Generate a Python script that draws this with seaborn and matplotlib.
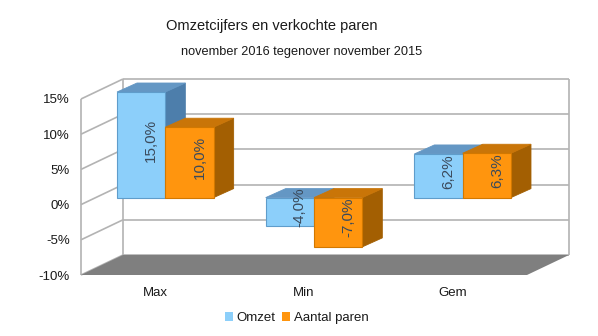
import numpy as np
import pandas as pd
import matplotlib
matplotlib.use("Agg")
import matplotlib.pyplot as plt
from matplotlib.patches import Polygon, Patch
from matplotlib.lines import Line2D
import seaborn as sns

# ---- data -------------------------------------------------------------
categories = ["Max", "Min", "Gem"]
series = ["Omzet", "Aantal paren"]
omzet = [15.0, -4.0, 6.2]
aantal_paren = [10.0, -7.0, 6.3]
yticks = [-10, -5, 0, 5, 10, 15]
ytick_labels = [f"{t}%" for t in yticks]

title = "Omzetcijfers en verkochte paren"
subtitle = "november 2016 tegenover november 2015"

# ---- style ------------------------------------------------------------
sns.set_theme(style="white")
plt.rcParams["font.family"] = ["Liberation Sans", "DejaVu Sans"]

BLUE = "#8ccffa"
BLUE_EDGE = "#5f9dcb"
BLUE_TOP = "#6497c4"
BLUE_SIDE = "#4d7eab"
ORANGE = "#ff950e"
ORANGE_EDGE = "#d27800"
ORANGE_TOP = "#c97508"
ORANGE_SIDE = "#a35f02"
GRID = "#b3b3b3"
FLOOR = "#7f7f7f"
LABEL = "#3b4a5b"

W, H = 598, 336
fig = plt.figure(figsize=(W / 100, H / 100), dpi=100)
fig.patch.set_facecolor("white")


def px_rect(left, top, right, bottom):
    return [left / W, 1 - bottom / H, (right - left) / W, (bottom - top) / H]


# perspective offsets (pixels, y up)
WALL = (42, 20)        # depth of the chart box
BAR_SHIFT = (10, 7)    # where the bar fronts sit inside the box
BAR_DEPTH = (20, 9)    # depth of each bar


def shift(axes, pts, d):
    pts = np.atleast_2d(np.asarray(pts, dtype=float))
    disp = axes.transData.transform(pts) + np.asarray(d, dtype=float)
    return axes.transData.inverted().transform(disp)


# ---- box: floor, walls, grid -----------------------------------------
ax = fig.add_axes(px_rect(81, 99, 527, 275))
ax.set_xlim(-0.5, 2.5)
ax.set_ylim(yticks[0], yticks[-1])
ax.set_facecolor("none")
for s in ax.spines.values():
    s.set_visible(False)

x_lo, x_hi = -0.5, 2.5
y_lo, y_hi = yticks[0], yticks[-1]

floor_front = np.array([[x_lo, y_lo], [x_hi, y_lo]])
floor_back = shift(ax, floor_front, WALL)
ax.add_patch(Polygon(np.vstack([floor_front, floor_back[::-1]]),
                     closed=True, facecolor=FLOOR, edgecolor="none",
                     zorder=1, clip_on=False))

line_kw = dict(color=GRID, lw=1.2, zorder=0.5, clip_on=False,
               solid_capstyle="butt")
for t in yticks:
    a = shift(ax, [[x_lo, t], [x_hi, t]], WALL)
    ax.add_line(Line2D(a[:, 0], a[:, 1], **line_kw))
    b = np.vstack([[x_lo, t], shift(ax, [x_lo, t], WALL)])
    ax.add_line(Line2D(b[:, 0], b[:, 1], **line_kw))
for pts in ([[x_lo, y_lo], [x_lo, y_hi]],):
    p = np.asarray(pts)
    ax.add_line(Line2D(p[:, 0], p[:, 1], **line_kw))
for xv in (x_lo, x_hi):
    p = shift(ax, [[xv, y_lo], [xv, y_hi]], WALL)
    ax.add_line(Line2D(p[:, 0], p[:, 1], **line_kw))

ax.set_yticks(yticks)
ax.set_yticklabels(ytick_labels)
ax.set_xticks(range(len(categories)))
ax.set_xticklabels(categories)
ax.tick_params(axis="y", length=0, pad=8, labelsize=9.5, labelcolor="#1a1a1a")
ax.tick_params(axis="x", length=0, pad=9, labelsize=9.5, labelcolor="#1a1a1a")
ax.grid(False)

# ---- bars ----------------------------------------------------------------
bar_ax = fig.add_axes(px_rect(81 + BAR_SHIFT[0], 99 - BAR_SHIFT[1],
                              527 + BAR_SHIFT[0], 275 - BAR_SHIFT[1]))
bar_ax.set_zorder(ax.get_zorder() + 1)
bar_ax.patch.set_visible(False)

df = pd.DataFrame({
    "categorie": categories * 2,
    "reeks": [series[0]] * len(categories) + [series[1]] * len(categories),
    "waarde": omzet + aantal_paren,
})
sns.barplot(data=df, x="categorie", y="waarde", hue="reeks",
            order=categories, hue_order=series, palette=[BLUE, ORANGE],
            width=0.65, saturation=1, legend=False, ax=bar_ax,
            linewidth=0.8)
bar_ax.set_xlim(x_lo, x_hi)
bar_ax.set_ylim(y_lo, y_hi)
bar_ax.axis("off")

shades = [(BLUE_EDGE, BLUE_TOP, BLUE_SIDE), (ORANGE_EDGE, ORANGE_TOP, ORANGE_SIDE)]
bars = []
for si, cont in enumerate(bar_ax.containers[:2]):
    for bar in cont:
        bars.append((bar.get_x(), si, bar))
bars.sort(key=lambda b: b[0])

for k, (_, si, bar) in enumerate(bars):
    edge, top_c, side_c = shades[si]
    x0 = bar.get_x()
    x1 = x0 + bar.get_width()
    y0 = bar.get_y()
    y1 = y0 + bar.get_height()
    yb, yt = min(y0, y1), max(y0, y1)
    base = 10 + 3 * k
    top = np.array([[x0, yt], [x1, yt]])
    top_poly = np.vstack([top, shift(bar_ax, top, BAR_DEPTH)[::-1]])
    side = np.array([[x1, yb], [x1, yt]])
    side_poly = np.vstack([side, shift(bar_ax, side, BAR_DEPTH)[::-1]])
    bar_ax.add_patch(Polygon(side_poly, closed=True, facecolor=side_c,
                             edgecolor=side_c, lw=0.6, zorder=base,
                             clip_on=False))
    bar_ax.add_patch(Polygon(top_poly, closed=True, facecolor=top_c,
                             edgecolor=top_c, lw=0.6, zorder=base + 1,
                             clip_on=False))
    bar.set_edgecolor(edge)
    bar.set_zorder(base + 2)
    bar.set_clip_on(False)

# value labels centred on each block
for si, cont in enumerate(bar_ax.containers[:2]):
    vals = omzet if si == 0 else aantal_paren
    for bar, v in zip(cont, vals):
        xc = bar.get_x() + bar.get_width() / 2
        yc = bar.get_y() + bar.get_height() / 2
        bar_ax.annotate(f"{v:.1f}%".replace(".", ","), xy=(xc, yc),
                        xytext=(BAR_DEPTH[0] / 2 * 0.72, BAR_DEPTH[1] / 2 * 0.72),
                        textcoords="offset points", rotation=90,
                        ha="center", va="center", fontsize=11,
                        color=LABEL, zorder=100, annotation_clip=False)

# ---- titles & legend -------------------------------------------------------
fig.text(272 / W, 1 - 26 / H, title, ha="center", va="center",
         fontsize=10.5, color="#1a1a1a")
fig.text(302 / W, 1 - 52 / H, subtitle, ha="center", va="center",
         fontsize=9.2, color="#1a1a1a")

handles = [Patch(facecolor=BLUE, edgecolor="none"),
           Patch(facecolor=ORANGE, edgecolor="none")]
fig.legend(handles, series, loc="center", bbox_to_anchor=(297 / W, 1 - 318 / H),
           ncol=2, frameon=False, fontsize=9.5, handlelength=0.6,
           handleheight=0.6, handletextpad=0.3, columnspacing=0.5,
           labelcolor="#1a1a1a")

fig.savefig("out.png", dpi=100, facecolor="white")
